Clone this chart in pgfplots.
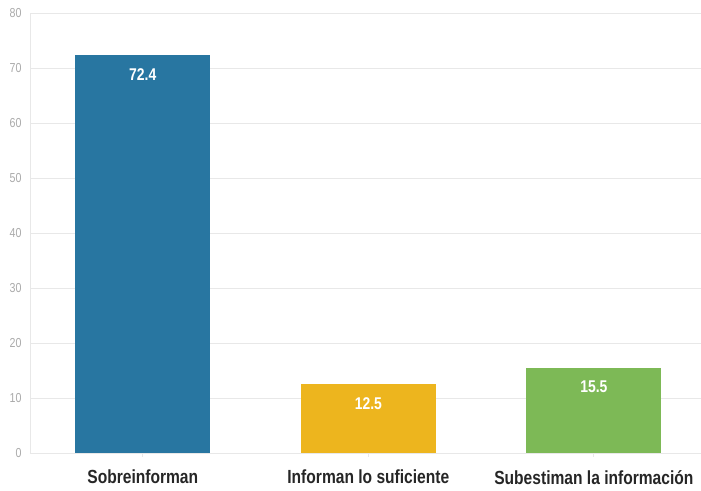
\documentclass[border=0pt]{standalone}
\usepackage{fontspec}
\setmainfont{Liberation Sans}[FakeStretch=0.82]
\usepackage{pgfplots}
\pgfplotsset{compat=1.18}
\definecolor{cblue}{HTML}{2876A1}
\definecolor{cyellow}{HTML}{EDB51E}
\definecolor{cgreen}{HTML}{7DB956}
\definecolor{gridc}{HTML}{E8E8E8}
\definecolor{tickc}{HTML}{AAAAAA}
\begin{document}
\begin{tikzpicture}
\useasboundingbox (-30pt,-37pt) rectangle (671pt,453pt);
\begin{axis}[
  at={(0pt,0pt)}, anchor=south west,
  scale only axis, width=671pt, height=440pt,
  xmin=-0.5, xmax=2.475, ymin=0, ymax=80,
  ytick={0,10,...,80},
  xtick={0,1,2},
  xticklabels={Sobreinforman, Informan lo suficiente, Subestiman la información},
  x tick label style={font=\bfseries\fontsize{19}{21}\selectfont, text=black!85, yshift=-11pt},
  y tick label style={font=\fontsize{13}{15}\selectfont, text=tickc},
  /pgf/number format/assume math mode=true,
  ymajorgrids, grid style={gridc, line width=0.8pt},
  axis x line*=bottom, axis y line*=left,
  axis line style={gridc, line width=0.8pt},
  major tick length=4pt,
  xtick style={gridc, line width=0.8pt},
  ytick style={draw=none},
  xticklabel style={inner sep=2pt},
  yticklabel style={xshift=-5pt},
  clip=false,
  ybar, bar width=135pt, bar shift=0pt,
  nodes near coords,
  every node near coord/.append style={anchor=north, yshift=-10pt, text=white, font=\bfseries\fontsize{17}{19}\selectfont,
    /pgf/number format/.cd, fixed, fixed zerofill, precision=1},
]
\addplot[fill=cblue, draw=none] coordinates {(0,72.4)};
\addplot[fill=cyellow, draw=none] coordinates {(1,12.5)};
\addplot[fill=cgreen, draw=none] coordinates {(2,15.5)};
\end{axis}
\end{tikzpicture}
\end{document}
